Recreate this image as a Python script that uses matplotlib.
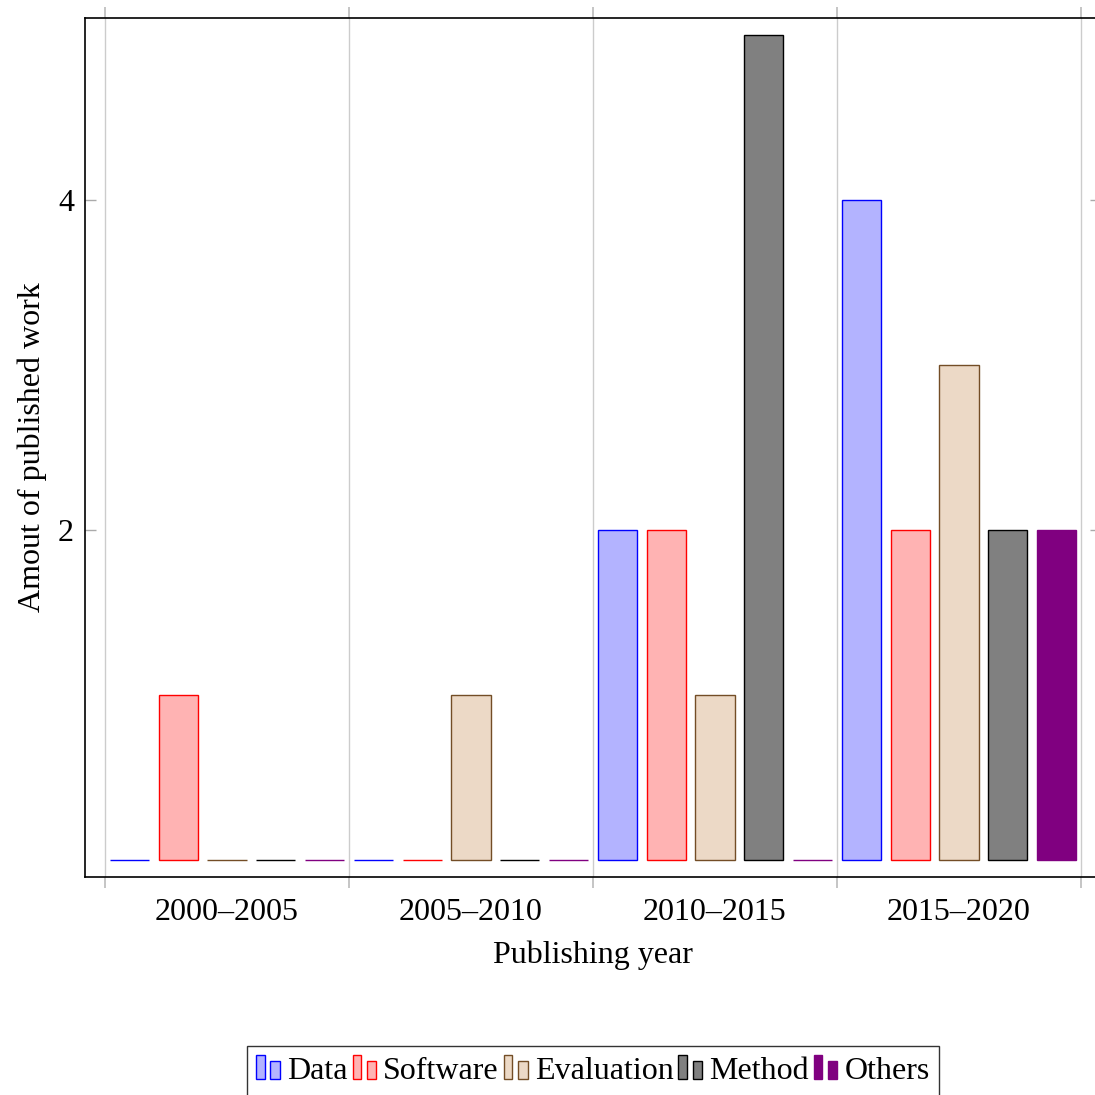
import numpy as np
import matplotlib.pyplot as plt
from matplotlib.patches import Rectangle
from matplotlib.legend_handler import HandlerBase

# Data
periods = ['2000–2005', '2005–2010', '2010–2015', '2015–2020']
series = ['Data', 'Software', 'Evaluation', 'Method', 'Others']
data = [0, 0, 2, 4]
software = [1, 0, 2, 2]
evaluation = [0, 1, 1, 3]
method = [0, 0, 5, 2]
others = [0, 0, 0, 2]
values = [data, software, evaluation, method, others]

# pgfplots-like bar styles (fill, edge)
fills = ['#b3b3ff', '#ffb3b3', '#ecd9c6', '#808080', '#800080']
edges = ['#0000ff', '#ff0000', '#734d26', '#000000', '#800080']

plt.rcParams['font.family'] = ['Liberation Serif', 'DejaVu Serif']
fs = 23


class TwoBarHandler(HandlerBase):
    """Legend image with two small bars, like pgfplots ybar legend."""
    def create_artists(self, legend, orig_handle, xdescent, ydescent,
                       width, height, fontsize, trans):
        fc = orig_handle.get_facecolor()
        ec = orig_handle.get_edgecolor()
        x0, y0 = -xdescent, -ydescent
        r1 = Rectangle((x0, y0), 0.36 * width, height * 1.05,
                       facecolor=fc, edgecolor=ec, lw=1.0, transform=trans)
        r2 = Rectangle((x0 + 0.6 * width, y0), 0.4 * width, height * 0.78,
                       facecolor=fc, edgecolor=ec, lw=1.0, transform=trans)
        return [r1, r2]


fig = plt.figure(figsize=(10.95, 10.95), dpi=100)
ax = fig.add_axes([85 / 1095, (1095 - 876.7) / 1095, 1016 / 1095, 858.7 / 1095])

x = np.arange(len(periods))
bar_w = 0.16
offsets = [-0.4, -0.2, 0.0, 0.2, 0.4]
bars = []
for vals, off, fc, ec in zip(values, offsets, fills, edges):
    b = ax.bar(x + off, vals, width=bar_w, color=fc, edgecolor=ec, linewidth=1.0, zorder=3)
    bars.append(b)

ax.set_xlim(-0.582, 3.582)
ax.set_ylim(-0.1, 5.1)

# labels at category centres, ticks/grid at group boundaries
ax.set_xticks(x)
ax.set_xticklabels(periods, fontsize=fs)
ax.tick_params(axis='x', which='major', length=0, pad=15)
ax.set_xticks(np.arange(-0.5, 4.0, 1.0), minor=True)
ax.tick_params(axis='x', which='minor', direction='out', length=8, width=1.3,
               color='#c0c0c0', top=True, bottom=True)
ax.grid(axis='x', which='minor', color='#cccccc', lw=1.0, zorder=0)

ax.set_yticks([2, 4])
ax.tick_params(axis='y', direction='in', length=8, width=1.0, color='#aaaaaa',
               left=True, right=True, labelsize=fs, pad=8)

for s in ax.spines.values():
    s.set_linewidth(1.2)

ax.set_xlabel('Publishing year', fontsize=fs, labelpad=10)
ax.set_ylabel('Amout of published work', fontsize=fs, labelpad=8)

leg = fig.legend(handles=[b.patches[0] for b in bars], labels=series,
                 handler_map={Rectangle: TwoBarHandler()},
                 loc='center', bbox_to_anchor=(593 / 1095, (1095 - 1071) / 1095),
                 ncol=5, fontsize=fs, frameon=True, fancybox=False,
                 handlelength=0.74, handleheight=0.75, handletextpad=0.22,
                 columnspacing=0.16, borderpad=0.3, borderaxespad=0)
leg.get_frame().set_edgecolor('black')
leg.get_frame().set_linewidth(1.0)

fig.savefig('out.png', dpi=100)
